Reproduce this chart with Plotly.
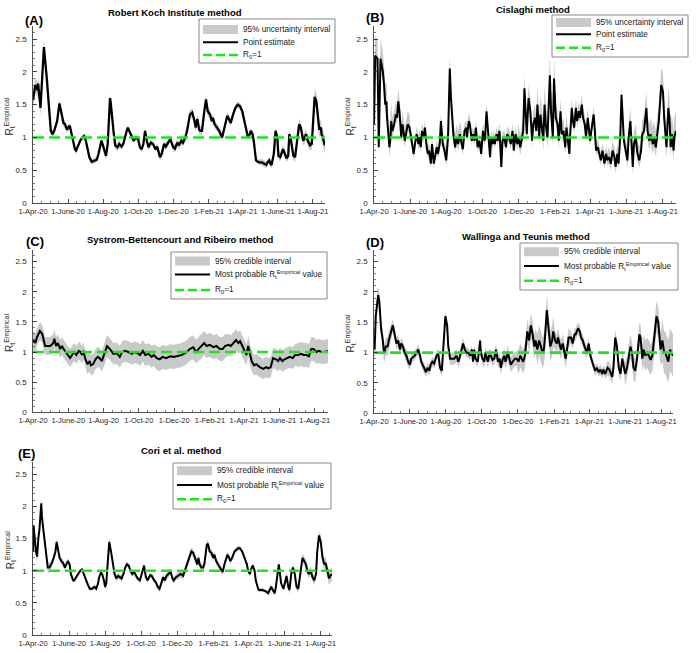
import plotly.graph_objects as go
import pandas as pd

W, H = 696, 653
START = pd.Timestamp("2020-04-01")

# ---------------- data (days since 1-Apr-2020, R values) ----------------
a_day = [0, 4, 8, 9, 13, 19, 24, 27, 31, 34,
         37, 42, 46, 50, 53, 56, 59, 64, 66, 69,
         73, 75, 79, 82, 86, 89, 92, 95, 98, 102,
         106, 111, 114, 117, 119, 121, 125, 127, 130, 134,
         135, 140, 143, 147, 150, 154, 157, 163, 165, 170,
         175, 179, 183, 186, 189, 192, 195, 198, 201, 205,
         209, 213, 216, 221, 224, 228, 231, 235, 239, 244,
         247, 251, 254, 258, 261, 265, 268, 273, 277, 281,
         283, 286, 289, 291, 294, 298, 301, 304, 308, 311,
         313, 316, 320, 324, 329, 334, 338, 341, 344, 348,
         352, 356, 360, 364, 368, 371, 374, 377, 379, 382,
         384, 388, 393, 398, 403, 406, 408, 411, 413, 415,
         419, 422, 425, 427, 430, 435, 437, 441, 444, 446,
         449, 453, 456, 461, 463, 466, 470, 473, 475, 478,
         482, 485, 488, 490, 493, 496, 498, 501, 502, 504,
         507, 508]
a_val = [1.57, 1.80, 1.72, 1.82, 1.45, 2.38, 1.90, 1.50, 1.10, 1.05,
         1.10, 1.25, 1.52, 1.35, 1.22, 1.20, 1.12, 1.18, 1.10, 0.95,
         0.82, 0.80, 0.90, 0.95, 1.00, 1.02, 0.95, 0.80, 0.70, 0.63,
         0.64, 0.66, 0.75, 0.90, 0.95, 0.90, 0.75, 0.72, 0.90, 1.60,
         1.55, 1.10, 0.88, 0.85, 0.90, 0.86, 0.90, 1.10, 1.15, 1.05,
         0.95, 1.00, 0.97, 0.85, 0.82, 0.90, 1.10, 0.95, 0.85, 0.92,
         0.90, 0.82, 0.86, 0.70, 0.75, 0.90, 0.86, 0.92, 0.97, 0.85,
         0.83, 0.92, 0.88, 0.95, 0.92, 1.00, 1.10, 1.35, 1.38, 1.25,
         1.15, 1.28, 1.12, 1.10, 1.10, 1.40, 1.58, 1.40, 1.35, 1.25,
         1.30, 1.20, 1.15, 1.10, 1.00, 1.20, 1.33, 1.28, 1.22, 1.35,
         1.45, 1.50, 1.48, 1.40, 1.25, 1.10, 1.00, 1.05, 1.10, 1.05,
         0.95, 0.65, 0.62, 0.62, 0.60, 0.58, 0.62, 0.65, 0.60, 0.58,
         0.75, 1.10, 1.00, 0.72, 0.70, 0.82, 0.78, 0.68, 0.72, 1.05,
         0.95, 0.72, 0.70, 1.10, 1.20, 1.15, 0.95, 1.00, 1.05, 0.95,
         0.88, 0.90, 1.30, 1.62, 1.55, 1.30, 1.12, 1.15, 1.05, 1.00,
         0.90, 0.88]
a_band = [0.12, 0.06, 0.04, 0.04, 0.06, 0.04, 0.04, 0.05, 0.06, 0.07, 0.06, 0.05, 0.04, 0.05, 0.06, 0.08, 0.12]

b_day = [0, 2, 6, 8, 11, 13, 15, 17, 19, 21,
         22, 26, 28, 29, 31, 34, 37, 39, 41, 43,
         46, 48, 52, 54, 57, 60, 63, 67, 70, 72,
         75, 77, 79, 81, 84, 86, 89, 91, 93, 96,
         98, 101, 103, 106, 108, 111, 113, 116, 119, 122,
         125, 128, 130, 132, 134, 137, 139, 142, 145, 147,
         150, 153, 156, 157, 160, 162, 165, 167, 170, 172,
         175, 178, 181, 184, 187, 188, 190, 193, 196, 198,
         200, 202, 204, 207, 209, 212, 215, 217, 220, 223,
         225, 228, 231, 234, 236, 239, 242, 244, 247, 249,
         252, 254, 257, 258, 261, 264, 267, 269, 272, 274,
         276, 279, 281, 283, 286, 288, 290, 293, 297, 299,
         302, 304, 307, 310, 312, 315, 317, 320, 323, 325,
         328, 330, 331, 334, 336, 338, 341, 343, 346, 348,
         351, 353, 356, 358, 361, 363, 365, 367, 371, 373,
         375, 378, 380, 383, 386, 389, 392, 394, 397, 400,
         403, 406, 408, 411, 413, 416, 418, 420, 422, 425,
         428, 430, 433, 435, 437, 439, 442, 445, 448, 451,
         453, 456, 460, 462, 465, 467, 471, 473, 476, 479,
         481, 485, 488, 490, 492, 494, 497, 499, 501, 503,
         506, 507, 510]
b_val = [1.20, 2.25, 2.20, 0.85, 2.20, 2.10, 2.00, 1.80, 1.50, 1.55,
         1.30, 0.85, 1.00, 1.25, 1.10, 1.20, 1.35, 1.30, 1.55, 1.40,
         1.00, 1.20, 0.95, 1.05, 1.20, 1.15, 0.95, 0.75, 0.95, 1.05,
         0.90, 1.00, 0.85, 1.10, 1.00, 1.15, 0.85, 0.75, 0.80, 0.60,
         0.90, 0.60, 0.70, 0.85, 0.75, 0.90, 1.25, 0.90, 0.80, 0.65,
         1.00, 2.05, 1.60, 1.20, 1.05, 0.85, 1.00, 0.90, 1.05, 0.95,
         0.82, 1.10, 1.15, 1.00, 1.25, 1.20, 0.95, 1.05, 0.95, 1.15,
         0.85, 0.95, 0.75, 1.10, 0.95, 1.05, 1.40, 1.05, 0.70, 1.00,
         0.90, 1.00, 0.90, 1.05, 0.95, 1.10, 0.55, 0.95, 1.00, 0.85,
         1.05, 1.00, 0.90, 1.10, 0.80, 1.05, 0.90, 1.00, 0.85, 0.95,
         1.10, 1.75, 1.20, 1.05, 1.60, 1.40, 0.95, 1.20, 1.30, 1.10,
         1.50, 1.00, 1.35, 1.20, 0.95, 1.50, 1.20, 1.00, 1.95, 1.40,
         1.00, 1.90, 1.30, 1.20, 0.95, 1.40, 1.05, 1.10, 0.85, 1.15,
         0.95, 0.75, 1.00, 1.45, 1.25, 1.15, 1.45, 1.25, 1.40, 1.30,
         1.50, 1.30, 1.20, 1.00, 1.30, 1.05, 0.95, 1.10, 1.35, 1.10,
         0.80, 0.85, 0.75, 0.65, 0.80, 0.60, 0.75, 0.65, 0.70, 0.60,
         0.80, 0.70, 0.55, 0.75, 0.60, 1.05, 1.65, 1.20, 0.95, 0.80,
         0.65, 1.00, 1.25, 0.90, 0.55, 0.90, 1.00, 0.75, 0.65, 0.80,
         1.05, 1.10, 1.45, 1.10, 0.95, 1.05, 0.90, 1.00, 0.85, 1.10,
         1.25, 1.80, 1.70, 1.30, 1.00, 0.85, 1.45, 1.30, 0.85, 1.05,
         0.80, 1.00, 1.10]
b_band_up = [0.30, 0.20, 0.12, 0.12, 0.20, 0.12, 0.12, 0.12, 0.20, 0.30, 0.20, 0.15, 0.12, 0.15, 0.20, 0.25, 0.30]
b_band_dn = [0.15, 0.10, 0.08, 0.08, 0.10, 0.08, 0.08, 0.08, 0.12, 0.15, 0.12, 0.10, 0.08, 0.10, 0.12, 0.15, 0.15]

c_day = [0, 4, 7, 12, 16, 18, 21, 27, 30, 35,
         37, 40, 43, 47, 50, 53, 64, 71, 75, 79,
         82, 85, 87, 90, 94, 98, 100, 104, 108, 112,
         115, 119, 123, 128, 133, 139, 145, 150, 154, 159,
         165, 171, 175, 181, 185, 190, 194, 200, 205, 209,
         214, 219, 224, 230, 237, 243, 248, 257, 266, 271,
         277, 282, 286, 292, 296, 300, 306, 312, 317, 323,
         328, 332, 338, 342, 346, 351, 355, 358, 362, 366,
         369, 372, 375, 378, 382, 386, 392, 398, 403, 407,
         411, 412, 415, 420, 424, 427, 431, 435, 439, 444,
         449, 453, 458, 464, 468, 473, 477, 481, 485, 490,
         494, 499, 504, 510]
c_val = [1.20, 1.15, 1.25, 1.35, 1.30, 1.20, 1.10, 1.10, 1.10, 1.15,
         1.22, 1.10, 1.15, 1.05, 1.10, 1.05, 0.90, 1.00, 0.95, 1.02,
         1.00, 0.95, 1.02, 0.90, 0.80, 0.85, 0.78, 0.80, 0.88, 0.92,
         0.90, 0.85, 0.95, 1.10, 1.05, 0.97, 0.98, 0.92, 1.00, 1.02,
         1.00, 0.97, 1.00, 0.98, 0.95, 1.02, 0.95, 0.97, 0.92, 0.95,
         0.90, 0.88, 0.92, 0.90, 0.93, 0.92, 0.93, 0.95, 1.00, 1.05,
         1.08, 1.00, 1.05, 1.10, 1.15, 1.10, 1.12, 1.08, 1.10, 1.05,
         1.05, 1.10, 1.12, 1.10, 1.15, 1.20, 1.15, 1.18, 1.10, 1.00,
         0.95, 1.10, 0.95, 0.85, 0.78, 0.80, 0.75, 0.72, 0.75, 0.73,
         0.75, 0.80, 0.90, 0.88, 0.85, 0.90, 0.85, 0.88, 0.90, 0.92,
         0.90, 0.95, 0.95, 0.97, 0.95, 0.95, 0.93, 1.05, 1.05, 1.00,
         1.02, 1.00, 1.00, 1.02]
c_band = [0.15, 0.15, 0.15, 0.17, 0.18, 0.18, 0.18, 0.20, 0.20, 0.20, 0.20, 0.18, 0.17, 0.17, 0.18, 0.20, 0.20]

d_day = [0, 1, 3, 5, 7, 9, 11, 12, 15, 17,
         20, 23, 25, 28, 32, 35, 38, 41, 44, 46,
         49, 52, 55, 58, 61, 63, 66, 69, 72, 75,
         78, 80, 85, 88, 91, 94, 96, 99, 102, 106,
         109, 112, 115, 118, 121, 124, 126, 129, 133, 136,
         140, 143, 146, 149, 151, 154, 157, 160, 163, 166,
         168, 170, 172, 176, 180, 181, 184, 187, 189, 193,
         195, 198, 201, 204, 207, 210, 213, 215, 218, 221,
         223, 227, 229, 232, 235, 239, 242, 245, 248, 251,
         253, 256, 260, 263, 266, 269, 272, 274, 277, 280,
         283, 286, 288, 290, 293, 296, 299, 302, 304, 307,
         310, 312, 315, 317, 320, 323, 325, 328, 330, 334,
         337, 340, 342, 346, 349, 351, 354, 357, 361, 364,
         367, 370, 372, 375, 378, 381, 384, 387, 389, 392,
         396, 399, 404, 406, 409, 412, 415, 418, 421, 424,
         426, 429, 432, 435, 438, 440, 443, 446, 450, 452,
         455, 457, 460, 463, 466, 469, 472, 476, 479, 482,
         485, 486, 489, 492, 494, 497, 499, 502, 505, 507]
d_val = [1.10, 1.05, 1.60, 1.80, 1.95, 1.85, 1.50, 1.40, 1.20, 0.98,
         1.10, 1.10, 1.20, 1.30, 1.45, 1.30, 1.15, 1.20, 1.05, 1.15,
         1.10, 1.00, 0.95, 0.85, 0.80, 0.90, 0.92, 0.95, 1.00, 1.05,
         0.95, 0.85, 0.75, 0.68, 0.75, 0.70, 0.80, 0.85, 0.82, 0.95,
         0.98, 0.75, 0.70, 1.20, 1.60, 1.45, 1.10, 0.90, 0.90, 0.90,
         0.95, 0.85, 0.95, 1.05, 1.15, 1.05, 1.00, 1.00, 0.95, 1.05,
         0.85, 1.05, 0.90, 0.85, 1.20, 1.00, 0.90, 0.85, 1.00, 0.85,
         0.95, 0.95, 0.88, 0.90, 1.05, 0.85, 0.90, 0.75, 0.88, 0.95,
         0.85, 1.00, 0.90, 0.80, 0.85, 0.90, 0.90, 0.85, 0.95, 0.90,
         0.85, 0.95, 1.35, 1.20, 1.45, 1.30, 1.10, 1.20, 1.05, 1.20,
         1.10, 1.00, 1.05, 1.25, 1.70, 1.45, 1.10, 1.20, 1.35, 1.20,
         1.15, 1.25, 1.10, 1.05, 1.15, 1.00, 0.90, 1.10, 1.25, 1.25,
         1.15, 1.30, 1.30, 1.40, 1.35, 1.25, 1.20, 1.10, 1.00, 1.15,
         0.95, 0.85, 0.80, 0.70, 0.75, 0.68, 0.72, 0.65, 0.72, 0.65,
         0.75, 0.72, 0.60, 0.75, 1.25, 1.10, 0.75, 0.65, 0.90, 0.75,
         0.65, 0.75, 0.95, 1.10, 0.95, 0.75, 0.70, 0.90, 1.30, 1.25,
         0.90, 1.05, 0.95, 1.00, 0.95, 0.88, 0.95, 1.30, 1.60, 1.50,
         1.10, 1.05, 1.20, 1.00, 1.00, 0.90, 0.85, 1.05, 1.00, 0.95]
d_band = [0.15, 0.10, 0.08, 0.08, 0.10, 0.08, 0.10, 0.12, 0.20, 0.25, 0.15, 0.10, 0.08, 0.12, 0.20, 0.25, 0.35]

e_day = [0, 1, 2, 5, 7, 9, 11, 14, 15, 18,
         20, 23, 25, 28, 32, 35, 38, 40, 42, 45,
         48, 51, 54, 56, 59, 62, 64, 68, 70, 73,
         76, 80, 83, 86, 89, 93, 96, 100, 104, 107,
         110, 112, 115, 117, 120, 122, 124, 127, 129, 132,
         136, 138, 141, 144, 147, 150, 153, 156, 159, 162,
         165, 168, 171, 173, 177, 181, 185, 188, 191, 194,
         198, 201, 205, 208, 211, 214, 217, 220, 223, 226,
         229, 233, 236, 238, 242, 245, 250, 254, 257, 261,
         265, 268, 271, 274, 278, 280, 282, 285, 288, 290,
         294, 296, 299, 302, 305, 307, 310, 313, 316, 319,
         321, 324, 329, 332, 334, 337, 341, 347, 350, 354,
         358, 362, 364, 367, 370, 372, 375, 377, 380, 382,
         388, 394, 398, 401, 403, 407, 409, 411, 414, 416,
         418, 420, 424, 427, 429, 432, 434, 437, 440, 443,
         446, 449, 451, 456, 459, 462, 464, 467, 470, 473,
         476, 479, 481, 484, 487, 490, 493, 495, 497, 499,
         501, 503, 506]
e_val = [1.30, 1.70, 1.60, 1.30, 1.22, 1.50, 1.65, 2.05, 1.85, 1.60,
         1.45, 1.20, 1.05, 1.05, 1.12, 1.20, 1.30, 1.45, 1.35, 1.20,
         1.15, 1.12, 1.05, 1.10, 1.15, 1.10, 0.95, 0.85, 0.85, 0.90,
         0.95, 1.00, 1.02, 0.95, 0.85, 0.78, 0.72, 0.72, 0.75, 0.72,
         0.80, 0.90, 0.97, 0.95, 0.85, 0.75, 0.80, 1.20, 1.45, 1.30,
         1.10, 0.95, 0.88, 0.92, 0.90, 0.88, 0.95, 1.05, 1.10, 1.08,
         1.00, 0.95, 0.98, 0.95, 0.88, 0.85, 1.00, 1.08, 0.90, 0.85,
         0.93, 0.92, 0.85, 0.82, 0.75, 0.72, 0.80, 0.90, 0.85, 0.92,
         0.95, 0.98, 0.88, 0.85, 0.90, 0.92, 0.95, 0.92, 1.00, 1.10,
         1.20, 1.30, 1.28, 1.20, 1.10, 1.20, 1.10, 1.05, 1.05, 1.10,
         1.40, 1.42, 1.30, 1.28, 1.20, 1.25, 1.15, 1.10, 1.05, 1.00,
         0.98, 1.10, 1.25, 1.20, 1.15, 1.20, 1.30, 1.35, 1.35, 1.30,
         1.20, 1.10, 1.00, 0.95, 1.05, 1.08, 1.00, 0.85, 0.75, 0.70,
         0.70, 0.68, 0.65, 0.72, 0.75, 0.68, 0.65, 0.75, 1.00, 1.10,
         0.95, 0.80, 0.72, 0.85, 0.92, 0.75, 0.70, 0.95, 1.05, 0.95,
         0.75, 0.72, 0.85, 1.20, 1.15, 1.10, 1.00, 0.95, 1.00, 0.90,
         0.85, 0.95, 1.30, 1.55, 1.45, 1.20, 1.10, 1.12, 1.05, 0.95,
         0.88, 0.92, 0.95]
e_band = [0.08, 0.05, 0.03, 0.03, 0.05, 0.04, 0.04, 0.05, 0.06, 0.06, 0.05, 0.04, 0.03, 0.04, 0.06, 0.07, 0.10]

r0_value = 1.0
tick_dates = ["2020-04-01", "2020-06-01", "2020-08-01", "2020-10-01", "2020-12-01",
              "2021-02-01", "2021-04-01", "2021-06-01", "2021-08-01"]
tick_text = ["1-Apr-20", "1-June-20", "1-Aug-20", "1-Oct-20", "1-Dec-20",
             "1-Feb-21", "1-Apr-21", "1-June-21", "1-Aug-21"]
y_ticks = [0, 0.5, 1, 1.5, 2, 2.5]
y_tick_text = ["0", "0.5", "1", "1.5", "2", "2.5"]

titles = ["Robert Koch Institute method", "Cislaghi method",
          "Systrom-Bettencourt and Ribeiro method", "Wallinga and Teunis method",
          "Cori et al. method"]
letters = ["(A)", "(B)", "(C)", "(D)", "(E)"]
band_labels = ["95% uncertainty interval", "95% uncertainty interval",
               "95% credible interval", "95% credible interval", "95% credible interval"]
line_labels = ["Point estimate", "Point estimate",
               "Most probable R<sub>t</sub><sup>Empirical</sup> value",
               "Most probable R<sub>t</sub><sup>Empirical</sup> value",
               "Most probable R<sub>t</sub><sup>Empirical</sup> value"]
r0_label = "R<sub>0</sub>=1"

series = [(a_day, a_val, a_band, a_band),
          (b_day, b_val, b_band_up, b_band_dn),
          (c_day, c_val, c_band, c_band),
          (d_day, d_val, d_band, d_band),
          (e_day, e_val, e_band, e_band)]

# ---------------- layout geometry (pixels) ----------------
boxes = [(33, 325, 26, 203), (374, 676, 26, 203),
         (33, 328, 249.6, 412.3), (374, 673, 249.5, 413.3),
         (33, 332, 461.5, 635)]
title_pos = [(175, 12.5), (533, 10), (180, 239.5), (526, 237), (181, 450)]
letter_pos = [(33.5, 20), (374.5, 17), (34.5, 241.5), (375, 243), (26.5, 453)]
ytitle_x = [9, 350, 10, 350, 10]
legend_boxes = [(199, 19, 335, 63), (552, 15, 688, 57), (171, 252, 327, 299),
                (520, 243, 678, 290), (173, 463, 331, 509)]
legend_rows = [(29.5, 42.3, 55), (22.5, 34.3, 47.7), (261, 274.5, 290),
               (251.7, 266, 280.7), (470.7, 485, 499.3)]

BAND = "#c9c9c9"
GREEN = "#1ee61e"
AX = "#262626"
FONT = "Arial, Liberation Sans, sans-serif"

def px(x):
    return x / W

def py(y):
    return 1 - y / H

def to_dates(days):
    return [START + pd.Timedelta(days=d) for d in days]

def month_idx(t):
    return (t.year - 2020) * 12 + t.month - 4

minor_ticks = []
for ms in pd.date_range("2020-04-01", "2021-09-01", freq="MS"):
    if ms.strftime("%Y-%m-%d") not in tick_dates:
        minor_ticks.append(ms)
    minor_ticks.append(ms + pd.Timedelta(days=15))

fig = go.Figure()
shapes = []
annotations = []

for i, (days, vals, up, dn) in enumerate(series):
    n = i + 1
    xa = "x" if n == 1 else f"x{n}"
    ya = "y" if n == 1 else f"y{n}"
    dates = to_dates(days)
    hi = [v + up[month_idx(t)] for t, v in zip(dates, vals)]
    lo = [v - dn[month_idx(t)] for t, v in zip(dates, vals)]
    fig.add_trace(go.Scatter(x=dates + dates[::-1], y=hi + lo[::-1], fill="toself",
                             fillcolor=BAND, line=dict(width=0), mode="lines",
                             hoverinfo="skip", showlegend=False, xaxis=xa, yaxis=ya))
    fig.add_trace(go.Scatter(x=dates, y=vals, mode="lines",
                             line=dict(color="black", width=2.3 if n == 1 else 2.0),
                             showlegend=False, xaxis=xa, yaxis=ya))
    fig.add_trace(go.Scatter(x=[dates[0], dates[-1]], y=[r0_value, r0_value], mode="lines",
                             line=dict(color=GREEN, width=2.6, dash="11px,5px"),
                             showlegend=False, xaxis=xa, yaxis=ya))

    x0, x1, yt, yb = boxes[i]
    xkey = "xaxis" if n == 1 else f"xaxis{n}"
    ykey = "yaxis" if n == 1 else f"yaxis{n}"
    fig.update_layout(**{
        xkey: dict(domain=[px(x0), px(x1)], anchor=ya, type="date", automargin=False,
                   range=[dates[0], dates[-1]],
                   tickmode="array", tickvals=tick_dates, ticktext=tick_text,
                   tickangle=0, ticklabelstandoff=1,
                   ticks="inside", ticklen=4, tickwidth=0.8, tickcolor=AX,
                   showline=True, linecolor=AX, linewidth=0.8, showgrid=False, zeroline=False,
                   tickfont=dict(size=7.5, color=AX, family=FONT),
                   minor=dict(tickmode="array", tickvals=minor_ticks, ticks="inside",
                              ticklen=2, tickwidth=0.6, tickcolor=AX, showgrid=False)),
        ykey: dict(domain=[py(yb), py(yt)], anchor=xa, range=[0, 2.7], automargin=False,
                   tickmode="array", tickvals=y_ticks, ticktext=y_tick_text,
                   ticks="inside", ticklen=4, tickwidth=0.8, tickcolor=AX,
                   showline=True, linecolor=AX, linewidth=0.8, showgrid=False, zeroline=False,
                   ticklabelstandoff=4,
                   tickfont=dict(size=8, color=AX, family=FONT),
                   minor=dict(dtick=0.1, ticks="inside", ticklen=2, tickwidth=0.6,
                              tickcolor=AX, showgrid=False)),
    })

    tx, ty = title_pos[i]
    annotations.append(dict(text=f"<b>{titles[i]}</b>", x=px(tx), y=py(ty), xref="paper",
                            yref="paper", showarrow=False, xanchor="center", yanchor="middle",
                            font=dict(size=9.5, color="black", family=FONT)))
    lx, ly = letter_pos[i]
    annotations.append(dict(text=f"<b>{letters[i]}</b>", x=px(lx), y=py(ly), xref="paper",
                            yref="paper", showarrow=False, xanchor="center", yanchor="middle",
                            font=dict(size=13, color="black", family=FONT)))
    annotations.append(dict(text="R<sub>t</sub><sup>Empirical</sup>", x=px(ytitle_x[i]),
                            y=py((yt + yb) / 2 + 2), xref="paper", yref="paper",
                            showarrow=False, textangle=-90, xanchor="center", yanchor="middle",
                            font=dict(size=10, color=AX, family=FONT)))

    bl, bt, br, bb = legend_boxes[i]
    r1, r2, r3 = legend_rows[i]
    shapes.append(dict(type="rect", xref="paper", yref="paper", x0=px(bl), x1=px(br),
                       y0=py(bb), y1=py(bt), line=dict(color="#7a7a7a", width=0.9),
                       fillcolor="white", layer="above"))
    shapes.append(dict(type="rect", xref="paper", yref="paper", x0=px(bl + 4), x1=px(bl + 39),
                       y0=py(r1 + 4.5), y1=py(r1 - 4.5), line=dict(width=0),
                       fillcolor=BAND, layer="above"))
    shapes.append(dict(type="line", xref="paper", yref="paper", x0=px(bl + 4), x1=px(bl + 39),
                       y0=py(r2), y1=py(r2), line=dict(color="black", width=2), layer="above"))
    shapes.append(dict(type="line", xref="paper", yref="paper", x0=px(bl + 4), x1=px(bl + 39),
                       y0=py(r3), y1=py(r3), line=dict(color=GREEN, width=2.6, dash="9px,4px"),
                       layer="above"))
    for row, label in zip((r1, r2, r3), (band_labels[i], line_labels[i], r0_label)):
        annotations.append(dict(text=label, x=px(bl + 42), y=py(row), xref="paper",
                                yref="paper", showarrow=False, xanchor="left",
                                yanchor="middle",
                                font=dict(size=8.2, color="#1a1a1a", family=FONT)))

fig.update_layout(width=W, height=H, margin=dict(l=0, r=0, t=0, b=0),
                  paper_bgcolor="white", plot_bgcolor="white", showlegend=False,
                  shapes=shapes, annotations=annotations, hovermode=False,
                  font=dict(family=FONT))

fig.write_html("out.html", config={"displayModeBar": False, "staticPlot": True},
               post_script="document.body.style.margin='0';document.body.style.overflow='hidden';")
